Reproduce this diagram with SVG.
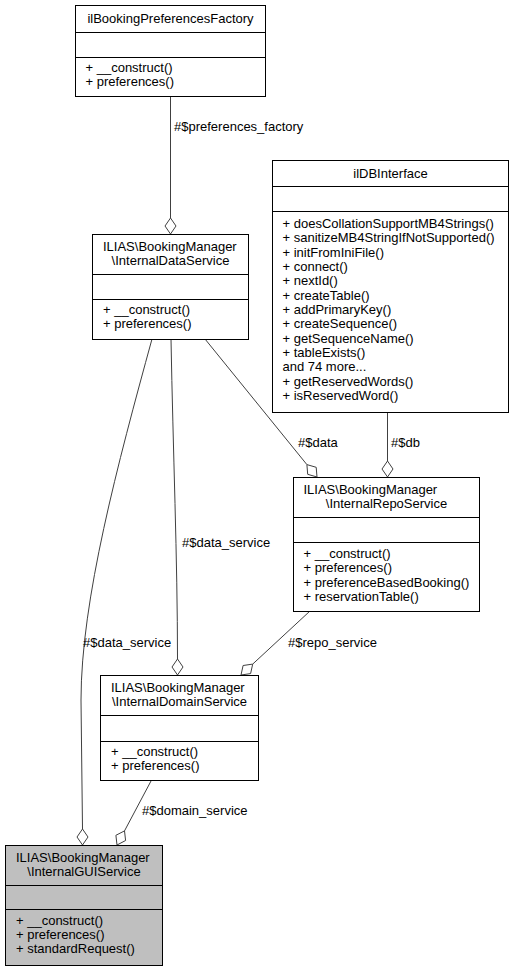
<svg xmlns="http://www.w3.org/2000/svg" width="513" height="971" viewBox="0 0 513 971">
<style>
text { font-family: "Liberation Sans", Arial, sans-serif; font-size: 13px; fill: #000; }
.c { text-anchor: middle; }
.box { fill: #fff; stroke: #000; stroke-width: 1; }
.gui { fill: #bfbfbf; stroke: #000; stroke-width: 1; }
.sep { stroke: #000; stroke-width: 1; fill: none; }
.edge { stroke: #404040; stroke-width: 1; fill: none; }
.dia { fill: #fff; stroke: #404040; stroke-width: 1; }
</style>
<rect x="0" y="0" width="513" height="971" fill="#fff"/>
<g id="connectors">
  <g id="e-preferences-factory">
    <path class="edge" d="M170.5,96 L170.5,218"/>
    <polygon class="dia" points="170.5,234 165,226 170.5,218 176,226"/>
    <text x="174" y="131">#$preferences_factory</text>
  </g>
  <g id="e-db">
    <path class="edge" d="M387.5,412 L387.5,461"/>
    <polygon class="dia" points="387.5,477 382,469 387.5,461 393,469"/>
    <text x="391" y="447">#$db</text>
  </g>
  <g id="e-data">
    <path class="edge" d="M205,339 L306.9,464.6"/>
    <polygon class="dia" points="317,477 307.7,474.3 306.9,464.6 316.2,467.3"/>
    <text x="298" y="447">#$data</text>
  </g>
  <g id="e-data-service-domain">
    <path class="edge" d="M171,339 C173,450 177.5,560 177.5,659"/>
    <polygon class="dia" points="177.5,675 172,667 177.5,659 183,667"/>
    <text x="182" y="547">#$data_service</text>
  </g>
  <g id="e-data-service-gui">
    <path class="edge" d="M152,339 C118,463 81,600 81,700 L82.5,829"/>
    <polygon class="dia" points="82.5,845 77,837 82.5,829 88,837"/>
    <text x="83" y="647">#$data_service</text>
  </g>
  <g id="e-repo-service">
    <path class="edge" d="M310,611 L252.7,664.1"/>
    <polygon class="dia" points="241,675 250.6,673.6 252.7,664.1 243.1,665.5"/>
    <text x="288" y="647">#$repo_service</text>
  </g>
  <g id="e-domain-service">
    <path class="edge" d="M151,781 L124.5,830.9"/>
    <polygon class="dia" points="117,845 125.6,840.5 124.5,830.9 115.9,835.3"/>
    <text x="142" y="815">#$domain_service</text>
  </g>
</g>
<g id="node-ilBookingPreferencesFactory">
  <rect class="box" x="75.5" y="5.5" width="190" height="91"/>
  <path class="sep" d="M75.5,32.5 H265.5 M75.5,57.5 H265.5"/>
  <text class="c" x="170.5" y="23">ilBookingPreferencesFactory</text>
  <text x="85.5" y="72">+ __construct()</text>
  <text x="85.5" y="86">+ preferences()</text>
</g>
<g id="node-InternalDataService">
  <rect class="box" x="92.5" y="234.5" width="156" height="105"/>
  <path class="sep" d="M92.5,274.5 H248.5 M92.5,299.5 H248.5"/>
  <text x="103" y="251">ILIAS\BookingManager</text>
  <text class="c" x="170.5" y="265">\InternalDataService</text>
  <text x="103" y="314">+ __construct()</text>
  <text x="103" y="328">+ preferences()</text>
</g>
<g id="node-ilDBInterface">
  <rect class="box" x="272.5" y="160.5" width="236" height="252"/>
  <path class="sep" d="M272.5,186.5 H508.5 M272.5,211.5 H508.5"/>
  <text class="c" x="390.5" y="178">ilDBInterface</text>
  <text x="282.5" y="228">+ doesCollationSupportMB4Strings()</text>
  <text x="282.5" y="242.3">+ sanitizeMB4StringIfNotSupported()</text>
  <text x="282.5" y="256.7">+ initFromIniFile()</text>
  <text x="282.5" y="271">+ connect()</text>
  <text x="282.5" y="285.3">+ nextId()</text>
  <text x="282.5" y="299.7">+ createTable()</text>
  <text x="282.5" y="314">+ addPrimaryKey()</text>
  <text x="282.5" y="328.3">+ createSequence()</text>
  <text x="282.5" y="342.7">+ getSequenceName()</text>
  <text x="282.5" y="357">+ tableExists()</text>
  <text x="282.5" y="371.3">and 74 more...</text>
  <text x="282.5" y="385.7">+ getReservedWords()</text>
  <text x="282.5" y="400">+ isReservedWord()</text>
</g>
<g id="node-InternalRepoService">
  <rect class="box" x="293.5" y="477.5" width="186" height="134"/>
  <path class="sep" d="M293.5,517.5 H479.5 M293.5,542.5 H479.5"/>
  <text x="303.5" y="494">ILIAS\BookingManager</text>
  <text class="c" x="386.5" y="508">\InternalRepoService</text>
  <text x="303.5" y="558">+ __construct()</text>
  <text x="303.5" y="572.3">+ preferences()</text>
  <text x="303.5" y="586.6">+ preferenceBasedBooking()</text>
  <text x="303.5" y="600.9">+ reservationTable()</text>
</g>
<g id="node-InternalDomainService">
  <rect class="box" x="100.5" y="675.5" width="158" height="105"/>
  <path class="sep" d="M100.5,715.5 H258.5 M100.5,741.5 H258.5"/>
  <text x="111" y="692">ILIAS\BookingManager</text>
  <text class="c" x="179.5" y="706">\InternalDomainService</text>
  <text x="111" y="756">+ __construct()</text>
  <text x="111" y="770">+ preferences()</text>
</g>
<g id="node-InternalGUIService">
  <rect class="gui" x="5.5" y="845.5" width="157" height="120"/>
  <path class="sep" d="M5.5,885.5 H162.5 M5.5,909.5 H162.5"/>
  <text x="16" y="862">ILIAS\BookingManager</text>
  <text class="c" x="84" y="876">\InternalGUIService</text>
  <text x="16" y="925">+ __construct()</text>
  <text x="16" y="939">+ preferences()</text>
  <text x="16" y="953">+ standardRequest()</text>
</g>
</svg>
